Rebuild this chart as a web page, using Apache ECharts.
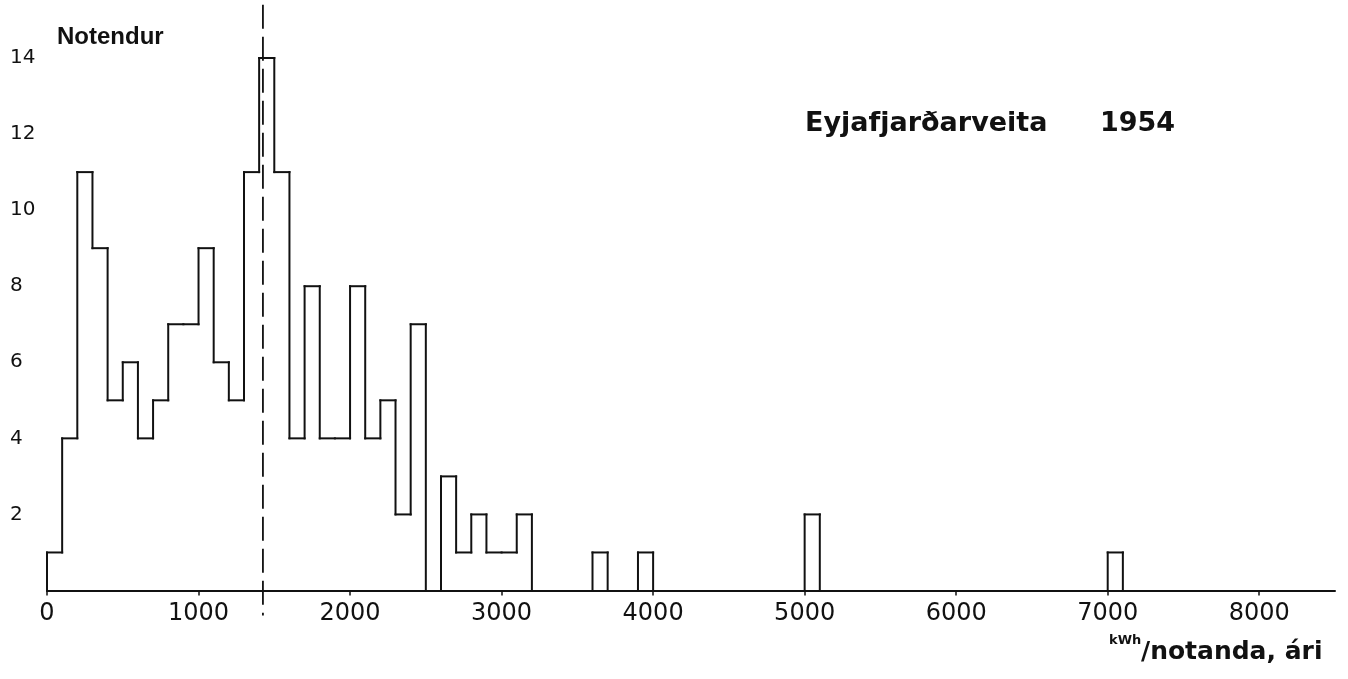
<!DOCTYPE html>
<html>
<head>
<meta charset="utf-8">
<script src="https://cdn.jsdelivr.net/npm/echarts@6/dist/echarts.min.js"></script>
<style>
html,body{margin:0;padding:0;background:#fff;}
#main{width:1348px;height:679px;}
</style>
</head>
<body>
<div id="main"></div>
<script>
// Histogram bins (kWh per user per year), bin width 100
const binStart = [0,100,200,300,400,500,600,700,800,900,
                  1000,1100,1200,1300,1400,1500,1600,1700,1800,1900,
                  2000,2100,2200,2300,2400,2500,2600,2700,2800,2900,
                  3000,3100,3600,3900,5000,7000];
const counts   = [1,4,11,9,5,6,4,5,7,7,
                  9,6,5,11,14,11,4,8,4,4,
                  8,4,5,2,7,0,3,1,2,1,
                  1,2,1,1,2,1];
const binWidth = 100;
const meanValue = 1425;
const xTicks = [0,1000,2000,3000,4000,5000,6000,7000,8000];
const yTicks = [2,4,6,8,10,12,14];
const titleText = 'Eyjafjarðarveita';
const yearText = '1954';
const yName = 'Notendur';
const xNameUnit = 'kWh';
const xNameRest = '/notanda, ári';

// [start, end, count, count of adjacent previous bin, 1 if next bin is adjacent]
const histData = binStart.map((s, i) => {
  const prev = (i > 0 && binStart[i - 1] + binWidth === s) ? counts[i - 1] : 0;
  const hasNext = (i < binStart.length - 1 && binStart[i + 1] === s + binWidth) ? 1 : 0;
  return [s, s + binWidth, counts[i], prev, hasNext];
});

const chart = echarts.init(document.getElementById('main'));
const FONT = 'DejaVu Sans';
const LS = {stroke: '#111', lineWidth: 2, lineCap: 'square'};
chart.setOption({
  animation: false,
  backgroundColor: '#fff',
  grid: {left: 47, right: 13, top: 58, bottom: 88.5, containLabel: false},
  xAxis: {
    type: 'value', min: 0, max: 8500, interval: 1000,
    axisLine: {show: true, lineStyle: {color: '#111', width: 2}},
    axisTick: {show: true, length: 5, lineStyle: {color: '#111', width: 1.5}},
    splitLine: {show: false},
    axisLabel: {
      showMaxLabel: false,
      margin: 11,
      color: '#111', fontFamily: FONT, fontSize: 24,
      formatter: v => xTicks.indexOf(v) >= 0 ? String(v) : ''
    }
  },
  yAxis: {
    type: 'value', min: 0, max: 14, interval: 2,
    axisLine: {show: false}, axisTick: {show: false}, splitLine: {show: false},
    axisLabel: {
      color: '#111', fontFamily: FONT, fontSize: 20, align: 'left', margin: 37,
      formatter: v => yTicks.indexOf(v) >= 0 ? String(v) : ''
    }
  },
  series: [
    {
      type: 'custom',
      data: histData,
      clip: false,
      renderItem: function (params, api) {
        const s = api.value(0), e = api.value(1), c = api.value(2);
        const prev = api.value(3), hasNext = api.value(4);
        const children = [];
        const pS0 = api.coord([s, prev]);
        const pSc = api.coord([s, c]);
        const pEc = api.coord([e, c]);
        const pE0 = api.coord([e, 0]);
        if (c > 0) {
          children.push({type: 'line', shape: {x1: pSc[0], y1: pSc[1], x2: pEc[0], y2: pEc[1]}, style: LS});
        }
        if (prev !== c) {
          children.push({type: 'line', shape: {x1: pS0[0], y1: pS0[1], x2: pSc[0], y2: pSc[1]}, style: LS});
        }
        if (!hasNext && c > 0) {
          children.push({type: 'line', shape: {x1: pEc[0], y1: pEc[1], x2: pE0[0], y2: pE0[1]}, style: LS});
        }
        return {type: 'group', children: children};
      }
    },
    {
      type: 'custom',
      data: [[meanValue]],
      clip: false,
      renderItem: function (params, api) {
        const top = api.coord([api.value(0), 15.4]);
        const bot = api.coord([api.value(0), -0.66]);
        return {
          type: 'line',
          shape: {x1: top[0], y1: top[1], x2: bot[0], y2: bot[1]},
          style: {stroke: '#111', lineWidth: 1.8, lineDash: [24, 8]}
        };
      }
    }
  ],
  graphic: [
    {type: 'text', left: 57, top: 25,
     style: {text: yName, font: 'bold 24px "Liberation Sans"', fill: '#111'}},
    {type: 'text', left: 805, top: 110,
     style: {text: titleText, font: 'bold 27px "DejaVu Sans"', fill: '#111'}},
    {type: 'text', left: 1100, top: 110,
     style: {text: yearText, font: 'bold 27px "DejaVu Sans"', fill: '#111'}},
    {type: 'text', left: 1109, top: 634,
     style: {text: xNameUnit, font: 'bold 13px "DejaVu Sans"', fill: '#111'}},
    {type: 'text', left: 1141, top: 640,
     style: {text: xNameRest, font: 'bold 25px "DejaVu Sans"', fill: '#111'}}
  ]
});
</script>
</body>
</html>
